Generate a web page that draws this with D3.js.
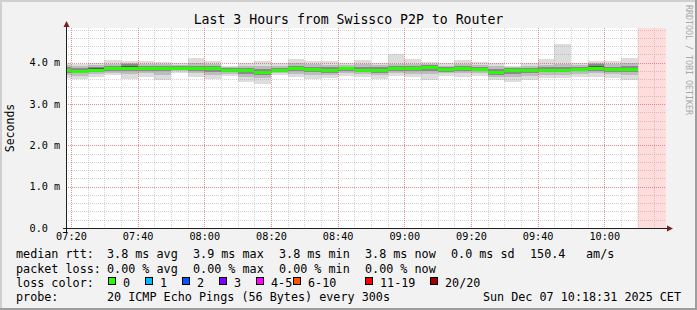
<!DOCTYPE html>
<html>
<head>
<meta charset="utf-8">
<script src="https://cdn.jsdelivr.net/npm/d3@7"></script>
<style>
  body { margin: 0; background: #f2f2f2; }
  svg text { font-family: "DejaVu Sans Mono", monospace; fill: #000; }
</style>
</head>
<body>
<svg class="chart"></svg>
<script>
// smokeping style graph, 5 minute bins, 20 pings each

var width = 697,
    height = 310;

var binStart = ["07:15","07:20","07:25","07:30","07:35","07:40","07:45","07:50","07:55",
  "08:00","08:05","08:10","08:15","08:20","08:25","08:30","08:35","08:40","08:45","08:50","08:55",
  "09:00","09:05","09:10","09:15","09:20","09:25","09:30","09:35","09:40","09:45","09:50","09:55",
  "10:00","10:05"];

// values in ms
var rttMedian = [3.81,3.79,3.82,3.85,3.87,3.86,3.87,3.87,3.86,3.85,3.82,3.80,3.77,3.81,3.86,3.83,3.82,3.85,
  3.82,3.82,3.85,3.85,3.89,3.83,3.86,3.84,3.77,3.80,3.81,3.82,3.82,3.84,3.86,3.84,3.84];
var rttMax = [4.00,3.97,3.99,4.07,4.05,4.03,4.02,4.00,4.11,4.05,3.93,4.00,4.04,3.99,4.08,4.05,4.03,4.00,
  4.07,4.00,4.21,4.08,4.02,3.99,4.07,4.02,3.99,3.93,4.00,4.08,4.44,4.00,4.05,4.03,4.11];
var rttMin = [3.62,3.60,3.65,3.70,3.60,3.65,3.58,3.74,3.65,3.60,3.68,3.54,3.49,3.70,3.65,3.60,3.62,3.68,
  3.66,3.60,3.68,3.65,3.57,3.68,3.66,3.68,3.58,3.53,3.57,3.62,3.62,3.66,3.66,3.64,3.58];
var rttHi2 = [3.95,3.92,3.94,3.98,4.00,3.96,3.96,3.95,3.99,3.96,3.90,3.93,3.93,3.92,3.99,3.96,3.95,3.95,
  3.97,3.94,3.98,3.97,3.97,3.93,3.97,3.95,3.91,3.90,3.92,3.95,3.98,3.95,4.00,3.96,3.99];
var rttLo2 = [3.70,3.68,3.72,3.76,3.72,3.74,3.70,3.79,3.74,3.70,3.73,3.66,3.62,3.74,3.73,3.70,3.70,3.75,
  3.72,3.70,3.75,3.73,3.72,3.74,3.74,3.74,3.66,3.66,3.68,3.71,3.70,3.73,3.74,3.72,3.71];
var rttHi3 = [3.89,3.86,3.89,3.93,3.96,3.92,3.92,3.91,3.93,3.91,3.87,3.87,3.85,3.87,3.93,3.90,3.89,3.90,
  3.90,3.89,3.91,3.91,3.94,3.89,3.92,3.90,3.85,3.86,3.87,3.89,3.90,3.90,3.96,3.90,3.91];
var rttLo3 = [3.76,3.74,3.77,3.80,3.80,3.80,3.79,3.83,3.80,3.78,3.77,3.73,3.70,3.77,3.80,3.77,3.76,3.80,
  3.77,3.76,3.80,3.79,3.80,3.78,3.80,3.79,3.71,3.73,3.75,3.77,3.77,3.79,3.80,3.78,3.78];
var rttHi4 = [3.85,3.82,3.86,3.89,3.93,3.89,3.89,3.89,3.89,3.88,3.84,3.83,3.80,3.84,3.89,3.86,3.85,3.88,
  3.85,3.85,3.88,3.88,3.91,3.86,3.89,3.87,3.81,3.83,3.84,3.85,3.85,3.87,3.92,3.87,3.87];
var rttLo4 = [3.78,3.77,3.79,3.82,3.84,3.83,3.84,3.85,3.83,3.82,3.80,3.77,3.74,3.79,3.83,3.80,3.79,3.83,
  3.79,3.79,3.83,3.82,3.86,3.81,3.83,3.81,3.74,3.77,3.78,3.79,3.79,3.81,3.83,3.81,3.80];

var yTickValues = [0, 1, 2, 3, 4];
var yTickLabels = ["0.0", "1.0 m", "2.0 m", "3.0 m", "4.0 m"];

var lossLabels = ["0", "1", "2", "3", "4-5", "6-10", "11-19", "20/20"];
var lossColors = ["#26ff00", "#00b8ff", "#0059ff", "#7e00ff", "#ff00ff", "#ff5500", "#ff0000", "#a00000"];

var rttStats = ["3.8 ms avg", "3.9 ms max", "3.8 ms min", "3.8 ms now", "0.0 ms sd"];
var lossStats = ["0.00 % avg", "0.00 % max", "0.00 % min", "0.00 % now"];

var parseT = d3.timeParse("%Y-%m-%d %H:%M:%S");
var tStart = parseT("2025-12-07 07:18:31"),
    tEnd = parseT("2025-12-07 10:18:31"),
    tLast = parseT("2025-12-07 10:10:00");

// plot box (can't call these top/left, window.top is taken)
var pLeft = 66, pRight = 666, pTop = 28, pBottom = 228;

var svg = d3.select(".chart")
  .attr("width", width)
  .attr("height", height);

var x = d3.scaleTime().domain([tStart, tEnd]).range([pLeft, pRight]);
var y = d3.scaleLinear().domain([0, 200 / 41.33]).range([pBottom, pTop]);

// frame
svg.append("rect").attr("width", width).attr("height", height).attr("fill", "#f2f2f2");
svg.append("path").attr("d", "M1,310V1H697").attr("fill", "none").attr("stroke", "#cfcfcf").attr("stroke-width", 2);
svg.append("path").attr("d", "M0,309H696V0").attr("fill", "none").attr("stroke", "#9e9e9e").attr("stroke-width", 2);

svg.append("rect")
  .attr("x", pLeft).attr("y", pTop)
  .attr("width", pRight - pLeft).attr("height", pBottom - pTop)
  .attr("fill", "#fff");

// unknown data
svg.append("rect")
  .attr("x", x(tLast)).attr("y", pTop)
  .attr("width", pRight - x(tLast)).attr("height", pBottom - pTop)
  .attr("fill", "#ffdddd");

var bins = binStart.map(function(s, i) {
  var t0 = parseT("2025-12-07 " + s + ":00");
  return {
    t0: t0, t1: d3.timeMinute.offset(t0, 5),
    med: rttMedian[i], min: rttMin[i], max: rttMax[i],
    lo2: rttLo2[i], hi2: rttHi2[i], lo3: rttLo3[i], hi3: rttHi3[i], lo4: rttLo4[i], hi4: rttHi4[i]
  };
});

var layers = [
  {lo: "min", hi: "max", color: "#dddddd"},
  {lo: "lo2", hi: "hi2", color: "#bdbdbd"},
  {lo: "lo3", hi: "hi3", color: "#8a8a8a"},
  {lo: "lo4", hi: "hi4", color: "#555555"}
];

var plot = svg.append("g").attr("shape-rendering", "crispEdges");

layers.forEach(function(L) {
  plot.selectAll(null).data(bins).enter().append("rect")
    .attr("x", function(d) { return Math.max(pLeft, x(d.t0)); })
    .attr("width", function(d) { return x(d.t1) - Math.max(pLeft, x(d.t0)); })
    .attr("y", function(d) { return y(d[L.hi]); })
    .attr("height", function(d) { return y(d[L.lo]) - y(d[L.hi]); })
    .attr("fill", L.color);
});

// median, coloured by loss (all 0 here)
plot.selectAll(null).data(bins).enter().append("rect")
  .attr("x", function(d) { return Math.max(pLeft, x(d.t0)); })
  .attr("width", function(d) { return x(d.t1) - Math.max(pLeft, x(d.t0)); })
  .attr("y", function(d) { return y(d.med) - 1.5; })
  .attr("height", 3)
  .attr("fill", lossColors[0]);

// grid, drawn over the data like rrdtool does
var grid = svg.append("g");
var minorX = x.ticks(d3.timeMinute.every(5)),
    majorX = x.ticks(d3.timeMinute.every(20));
var minorY = d3.range(0, 4.81, 0.2);

grid.selectAll(null).data(minorX).enter().append("line")
  .attr("x1", function(d) { return Math.round(x(d)) + 0.5; })
  .attr("x2", function(d) { return Math.round(x(d)) + 0.5; })
  .attr("y1", pTop).attr("y2", pBottom)
  .attr("stroke", "rgba(143,143,143,0.38)").attr("stroke-dasharray", "1,1");
grid.selectAll(null).data(minorY).enter().append("line")
  .attr("y1", function(d) { return Math.round(y(d)) + 0.5; })
  .attr("y2", function(d) { return Math.round(y(d)) + 0.5; })
  .attr("x1", pLeft).attr("x2", pRight)
  .attr("stroke", "rgba(143,143,143,0.38)").attr("stroke-dasharray", "1,1");
grid.selectAll(null).data(majorX).enter().append("line")
  .attr("x1", function(d) { return Math.round(x(d)) + 0.5; })
  .attr("x2", function(d) { return Math.round(x(d)) + 0.5; })
  .attr("y1", pTop).attr("y2", pBottom)
  .attr("stroke", "rgba(222,79,79,0.5)").attr("stroke-dasharray", "1,1");
grid.selectAll(null).data(yTickValues.slice(1)).enter().append("line")
  .attr("y1", function(d) { return Math.round(y(d)) + 0.5; })
  .attr("y2", function(d) { return Math.round(y(d)) + 0.5; })
  .attr("x1", pLeft).attr("x2", pRight)
  .attr("stroke", "rgba(222,79,79,0.5)").attr("stroke-dasharray", "1,1");

// axes
svg.append("line").attr("x1", 63).attr("x2", 669).attr("y1", pBottom + 0.5).attr("y2", pBottom + 0.5)
  .attr("stroke", "#1f1f1f");
svg.append("line").attr("x1", pLeft + 0.5).attr("x2", pLeft + 0.5).attr("y1", 232).attr("y2", 25)
  .attr("stroke", "#1f1f1f");
svg.append("path").attr("d", "M667,225.5L673,228.5L667,231.5Z").attr("fill", "#801f1f");
svg.append("path").attr("d", "M63.5,27L66.5,21L69.5,27Z").attr("fill", "#801f1f");

var xAxis = d3.axisBottom(x)
  .ticks(d3.timeMinute.every(20))
  .tickFormat(d3.timeFormat("%H:%M"))
  .tickSize(0).tickPadding(4);
var gx = svg.append("g").attr("transform", "translate(0," + (pBottom + 1) + ")").call(xAxis);
gx.select(".domain").remove();
gx.selectAll("text").style("font-family", "DejaVu Sans Mono").style("font-size", "10.2px").attr("fill", "#000");

var yAxis = d3.axisLeft(y)
  .tickValues(yTickValues)
  .tickFormat(function(d, i) { return yTickLabels[i]; })
  .tickSize(0);
var gy = svg.append("g").call(yAxis);
gy.select(".domain").remove();
gy.selectAll("text")
  .attr("x", 29.5).attr("text-anchor", "start")
  .style("font-family", "DejaVu Sans Mono").style("font-size", "10.2px").attr("fill", "#000");

// title and labels
svg.append("text").attr("x", 348.5).attr("y", 24).attr("text-anchor", "middle")
  .style("font-size", "13.2px").text("Last 3 Hours from Swissco P2P to Router");

svg.append("text").attr("transform", "translate(14,128) rotate(-90)").attr("text-anchor", "middle")
  .style("font-size", "11.5px").text("Seconds");

svg.append("text").attr("transform", "translate(685.5,5) rotate(90)")
  .style("font-size", "8.3px").style("fill", "#a8a8a8").text("RRDTOOL / TOBI OETIKER");

// legend
var fs = "11.75px";
var colX = [107, 193, 279, 365, 451];

svg.append("text").attr("x", 16).attr("y", 258).style("font-size", fs).text("median rtt:");
svg.selectAll(null).data(rttStats).enter().append("text")
  .attr("x", function(d, i) { return colX[i]; }).attr("y", 258)
  .style("font-size", fs).text(function(d) { return d; });
svg.append("text").attr("x", 530).attr("y", 258).style("font-size", fs).text("150.4");
svg.append("text").attr("x", 586).attr("y", 258).style("font-size", fs).text("am/s");

svg.append("text").attr("x", 16).attr("y", 272.5).style("font-size", fs).text("packet loss:");
svg.selectAll(null).data(lossStats).enter().append("text")
  .attr("x", function(d, i) { return colX[i]; }).attr("y", 272.5)
  .style("font-size", fs).text(function(d) { return d; });

svg.append("text").attr("x", 16).attr("y", 286.5).style("font-size", fs).text("loss color:");
var swX = [108.5, 145.5, 182.5, 219.5, 256.5, 293.5, 365.5, 430.5];
var sw = svg.selectAll(".sw").data(lossLabels).enter().append("g").attr("class", "sw");
sw.append("rect")
  .attr("x", function(d, i) { return swX[i]; }).attr("y", 277.5)
  .attr("width", 7).attr("height", 7)
  .attr("fill", function(d, i) { return lossColors[i]; })
  .attr("stroke", "#000").attr("stroke-width", 1);
sw.append("text")
  .attr("x", function(d, i) { return swX[i] + 14.5; }).attr("y", 286.5)
  .style("font-size", fs).text(function(d) { return d; });

svg.append("text").attr("x", 16).attr("y", 300.5).style("font-size", fs).text("probe:");
svg.append("text").attr("x", 107).attr("y", 300.5).style("font-size", fs)
  .text("20 ICMP Echo Pings (56 Bytes) every 300s");
svg.append("text").attr("x", 681).attr("y", 300.5).attr("text-anchor", "end").style("font-size", fs)
  .text("Sun Dec 07 10:18:31 2025 CET");
</script>
</body>
</html>
